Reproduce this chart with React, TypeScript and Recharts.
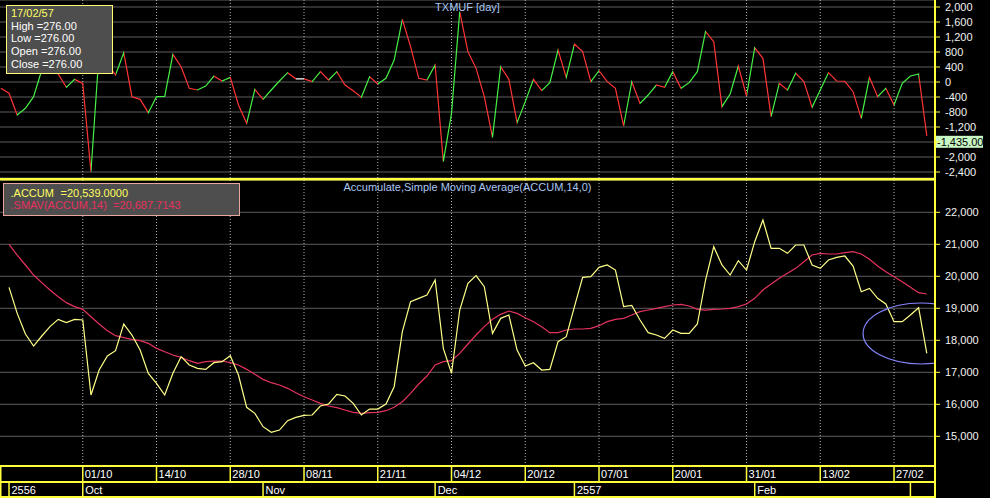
import React from 'react';
import { LineChart, ComposedChart, Line, XAxis, YAxis, CartesianGrid, ReferenceLine, ReferenceDot } from 'recharts';

const FONT = '"Liberation Sans", Arial, sans-serif';
const YELLOW = '#ffff3c';
const GRID = '#5e5e5e';
const DOTS = '#b4b4b4';
const UP = '#45ef45';
const DOWN = '#ff3434';
const FLAT = '#ffffff';
const ACC_COLOR = '#ffff88';
const SMA_COLOR = '#e5335f';
const TICK_TEXT = '#f2f2f2';

// daily change (top panel), one value per bar
const CHANGE = [
  -169, -300, -880, -702, -391, 320, 293, 213, -142, 71,
  -36, -2392, 808, 498, 187, 782, -392, -462, -818, -392,
  -385, 738, 409, -169, -213, -107, 160, 27, 124, -613,
  -1102, -196, -462, -213, 27, 249, 85, 85, 9, 276,
  53, 276, -80, -231, -409, 142, -53, 98, 587, 1671,
  942, 98, 53, 453, -2125, -836, 1876, 809, 364, -391,
  -1476, 409, 71, -1084, -524, 71, -231, -18, 853, 124,
  1013, 809, 9, 302, 9, -169, -1173, 9, -569, -347,
  -80, -142, 276, -169, -18, 276, 1342, 1076, -658, -320,
  427, -373, 916, 631, -924, -36, -213, 231, 9, -676,
  -213, 249, 27, 20, -258, -969, 124, -391, -169, -613,
  -36, 160, 213, -1435,
];

const ACCUM = [
  null, 19655, 18842, 18196, 17821, 18134, 18426, 18655, 18551, 18655,
  18634, 16290, 17071, 17509, 17676, 18509, 18165, 17696, 16967, 16655,
  16290, 16967, 17488, 17228, 17123, 17092, 17300, 17332, 17519, 16915,
  15905, 15717, 15300, 15123, 15196, 15488, 15592, 15655, 15665, 15946,
  16009, 16311, 16259, 16030, 15665, 15852, 15852, 16009, 16550, 18269,
  19207, 19311, 19415, 19884, 17748, 16967, 18946, 19780, 20019, 19676,
  18217, 18686, 18790, 17696, 17196, 17300, 17071, 17092, 17957, 18113,
  19051, 19967, 19988, 20280, 20353, 20196, 19051, 19092, 18634, 18238,
  18165, 18061, 18321, 18217, 18217, 18509, 19884, 20925, 20353, 20040,
  20488, 20196, 21082, 21759, 20874, 20874, 20717, 20978, 20978, 20353,
  20248, 20509, 20592, 20634, 20321, 19519, 19623, 19311, 19134, 18582,
  18582, 18790, 19019, 17592,
];

const SMAV = [
  null, 20999, 20665, 20353, 20040, 19801, 19571, 19363, 19176, 19051,
  18967, 18738, 18509, 18300, 18144, 18082, 18030, 17988, 17905, 17748,
  17644, 17540, 17467, 17363, 17280, 17332, 17352, 17352, 17300, 17228,
  17092, 16936, 16780, 16675, 16603, 16499, 16363, 16238, 16134, 16030,
  15946, 15894, 15821, 15748, 15717, 15738, 15748, 15800, 15905, 16082,
  16342, 16634, 16884, 17228, 17332, 17363, 17592, 17884, 18165, 18426,
  18655, 18811, 18915, 18842, 18707, 18582, 18426, 18238, 18238, 18321,
  18353, 18353, 18373, 18457, 18582, 18655, 18686, 18790, 18894, 18946,
  18998, 19051, 19103, 19123, 19071, 18967, 18946, 18967, 18978, 18998,
  19051, 19134, 19311, 19571, 19759, 19936, 20092, 20248, 20457, 20665,
  20717, 20696, 20696, 20738, 20769, 20696, 20530, 20321, 20144, 19988,
  19832, 19655, 19488, 19446,
];

const DATE_TICKS = [10, 19, 28, 37, 46, 55, 64, 73, 82, 91, 100, 109];
const DATE_LABELS = ['01/10', '14/10', '28/10', '08/11', '21/11', '04/12', '20/12', '07/01', '20/01', '31/01', '13/02', '27/02'];
const MONTH_TICKS = [1, 10, 32, 53, 70, 92, 111];
const MONTH_LABELS = ['2556', 'Oct', 'Nov', 'Dec', '2557', 'Feb', ''];
const CHANGE_TICKS = [2000, 1600, 1200, 800, 400, 0, -400, -800, -1200, -1600, -2000, -2400];
const ACCUM_TICKS = [22000, 21000, 20000, 19000, 18000, 17000, 16000, 15000];

const rows = CHANGE.map((chg, i) => ({ i, chg, accum: ACCUM[i], smav: SMAV[i] }));
const LAST = CHANGE[CHANGE.length - 1];
const X_DOMAIN: [number, number] = [-0.1, 114];

// hand-drawn circle on the accum panel (data units for the centre)
const MARK = { x: 112.3, y: 18212, rx: 58, ry: 30.5 };

const fmt = (v: number) => v.toLocaleString('en-US');

function segmentStops() {
  const n = CHANGE.length - 1;
  const out: JSX.Element[] = [];
  for (let k = 0; k < n; k++) {
    const a = CHANGE[k];
    const b = CHANGE[k + 1];
    const c = b > a ? UP : b < a ? DOWN : FLAT;
    out.push(<stop key={`s${k}`} offset={k / n} stopColor={c} />);
    out.push(<stop key={`e${k}`} offset={(k + 1) / n} stopColor={c} />);
  }
  return out;
}

const dateGrid = () =>
  DATE_TICKS.map((t) => (
    <ReferenceLine key={`g${t}`} x={t} stroke={DOTS} strokeWidth={1} strokeDasharray="1 2" />
  ));

function LastTag(props: any) {
  const vb = props.viewBox || {};
  const x = (vb.x ?? 0) + (vb.width ?? 0) + 1;
  const y = vb.y ?? 0;
  return (
    <g>
      <rect x={x} y={y} width={47} height={12} fill="#c9f7c3" />
      <text x={x + 1} y={y + 10} fontSize={11} fontFamily={FONT} fill="#000">
        {LAST.toLocaleString('en-US', { minimumFractionDigits: 2 })}
      </text>
    </g>
  );
}

function DateTick(props: any) {
  const { x, y, payload } = props;
  const k = DATE_TICKS.indexOf(payload.value);
  return (
    <g>
      <line x1={x} x2={x} y1={y} y2={y + 16} stroke={YELLOW} strokeWidth={1.5} />
      <text x={x + 2} y={y + 12} fontSize={11} fontFamily={FONT} fill="#fff">{DATE_LABELS[k]}</text>
    </g>
  );
}

function MonthTick(props: any) {
  const { x, y, payload } = props;
  const k = MONTH_TICKS.indexOf(payload.value);
  return (
    <g>
      <line x1={x} x2={x} y1={y} y2={y + 16} stroke={YELLOW} strokeWidth={1.5} />
      <text x={x + 2.5} y={y + 12} fontSize={11} fontFamily={FONT} fill="#fff">{MONTH_LABELS[k]}</text>
    </g>
  );
}

function MarkShape(props: any) {
  return (
    <ellipse cx={props.cx} cy={props.cy} rx={MARK.rx} ry={MARK.ry} fill="none"
      stroke="#8585ff" strokeWidth={1.2} clipPath="url(#accClip)" />
  );
}

const yTick = { fill: TICK_TEXT, fontSize: 11, fontFamily: FONT };

export default function App() {
  return (
    <div style={{ position: 'absolute', left: 0, top: 0, width: 990, height: 498, background: '#000', overflow: 'hidden' }}>
      <div style={{ position: 'absolute', left: 0, top: 0 }}>
        <LineChart width={990} height={178} data={rows} margin={{ top: 0, right: 0, bottom: 0, left: 0 }}>
          <defs>
            <linearGradient id="chgStroke" x1="0" y1="0" x2="1" y2="0">
              {segmentStops()}
            </linearGradient>
          </defs>
          <CartesianGrid vertical={false} stroke={GRID} />
          <XAxis dataKey="i" type="number" domain={X_DOMAIN} ticks={DATE_TICKS} interval={0} height={0}
            tick={false} tickLine={false} axisLine={false} allowDataOverflow />
          <YAxis orientation="right" width={55} domain={[-2560, 2187]} ticks={CHANGE_TICKS} interval={0}
            allowDataOverflow tickFormatter={(v: number) => (v === -1600 ? '' : fmt(v))}
            axisLine={{ stroke: YELLOW, strokeWidth: 2 }} tickLine={{ stroke: YELLOW }}
            tickSize={5} tickMargin={5} tick={yTick} />
          {dateGrid()}
          <ReferenceLine y={LAST} stroke="none" label={<LastTag />} />
          <Line type="linear" dataKey="chg" stroke="url(#chgStroke)" strokeWidth={1.2} dot={false}
            activeDot={false} isAnimationActive={false} />
        </LineChart>
      </div>
      <div style={{ position: 'absolute', left: 0, top: 179 }}>
        <ComposedChart width={990} height={319} data={rows} margin={{ top: 1, right: 0, bottom: 0, left: 0 }}>
          <defs>
            <clipPath id="accClip">
              <rect x={0} y={1} width={935} height={286} />
            </clipPath>
          </defs>
          <CartesianGrid vertical={false} stroke={GRID} />
          <XAxis dataKey="i" type="number" domain={X_DOMAIN} ticks={DATE_TICKS} interval={0} height={16}
            tickSize={0} tickMargin={0} tickLine={false} axisLine={{ stroke: YELLOW, strokeWidth: 2 }}
            tick={(p: any) => <DateTick {...p} />} allowDataOverflow />
          <XAxis xAxisId="m" dataKey="i" type="number" domain={X_DOMAIN} ticks={MONTH_TICKS} interval={0} height={16}
            tickSize={0} tickMargin={0} tickLine={false} axisLine={{ stroke: YELLOW, strokeWidth: 2 }}
            tick={(p: any) => <MonthTick {...p} />} allowDataOverflow />
          <YAxis orientation="right" width={55} domain={[14072, 23009]} ticks={ACCUM_TICKS} interval={0}
            allowDataOverflow tickFormatter={fmt}
            axisLine={{ stroke: YELLOW, strokeWidth: 2 }} tickLine={{ stroke: YELLOW }}
            tickSize={5} tickMargin={5} tick={yTick} />
          {dateGrid()}
          <Line type="linear" dataKey="smav" stroke={SMA_COLOR} strokeWidth={1.2} dot={false}
            activeDot={false} isAnimationActive={false} />
          <Line type="linear" dataKey="accum" stroke={ACC_COLOR} strokeWidth={1.2} dot={false}
            activeDot={false} isAnimationActive={false} />
          <ReferenceDot x={MARK.x} y={MARK.y} shape={(p: any) => <MarkShape {...p} />} />
        </ComposedChart>
      </div>
      <svg width={990} height={498} style={{ position: 'absolute', left: 0, top: 0, pointerEvents: 'none' }}>
        <rect x={0} y={178} width={936} height={2.5} fill={YELLOW} />
        <rect x={934} y={0} width={2} height={498} fill={YELLOW} />
        <rect x={0} y={496} width={936} height={2} fill={YELLOW} />
        <rect x={0} y={466} width={1.5} height={32} fill={YELLOW} />

        <text x={467.5} y={11} textAnchor="middle" fontSize={11} fontFamily={FONT} fill="#a9c6f2">TXMUF [day]</text>
        <text x={467.5} y={191} textAnchor="middle" fontSize={11} fontFamily={FONT} fill="#a9c6f2">
          Accumulate,Simple Moving Average(ACCUM,14,0)
        </text>

        <rect x={6.5} y={5.5} width={106} height={68} fill="#4e4e4e" stroke="#ffff70" strokeWidth={1} />
        <g fontSize={11} fontFamily={FONT}>
          <text x={11} y={17} fill="#ffff60">17/02/57</text>
          <text x={11} y={29.5} fill="#fff">High =276.00</text>
          <text x={11} y={42} fill="#fff">Low =276.00</text>
          <text x={11} y={55} fill="#fff">Open =276.00</text>
          <text x={11} y={67.5} fill="#fff">Close =276.00</text>
        </g>

        <rect x={3.5} y={183.5} width={236} height={32} fill="#4e4e4e" stroke="#e7a6a0" strokeWidth={1} />
        <g fontSize={11} fontFamily={FONT}>
          <text x={10.5} y={197} fill="#ffff60">.ACCUM</text>
          <text x={60.5} y={197} fill="#ffff60">=20,539.0000</text>
          <text x={10.5} y={209} fill="#e8305e">.SMAV(ACCUM,14)</text>
          <text x={113} y={209} fill="#e8305e">=20,687.7143</text>
        </g>
      </svg>
    </div>
  );
}
